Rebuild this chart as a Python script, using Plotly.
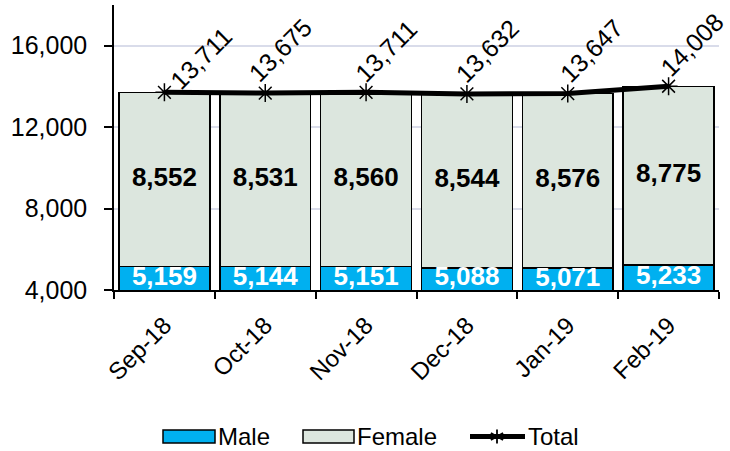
import plotly.graph_objects as go

months = ["Sep-18", "Oct-18", "Nov-18", "Dec-18", "Jan-19", "Feb-19"]
male = [5159, 5144, 5151, 5088, 5071, 5233]
female = [8552, 8531, 8560, 8544, 8576, 8775]
total = [13711, 13675, 13711, 13632, 13647, 14008]
y_min, y_max = 4000, 18000
y_ticks = [4000, 8000, 12000, 16000]

# label offsets (pixels) of the rotated total labels, relative to the markers
label_dx = [37, 15, 20, 20, 23, 23]
label_dy = [34, 43, 41, 43, 43, 41]

FONT = "Liberation Sans, Arial, sans-serif"
MALE_C = "#00B0F0"
FEMALE_C = "#DCE6DE"

# plot area in pixels (for the hand-drawn legend)
L, R, T, B = 114, 11, 5, 161
W, H = 730, 451
PW, PH = W - L - R, H - T - B


def px(xp):
    return (xp - L) / PW


def py(yp):
    return (H - B - yp) / PH


fig = go.Figure()
fig.add_trace(go.Bar(
    x=months, y=male, name="Male", showlegend=False,
    marker=dict(color=MALE_C, line=dict(color="black", width=1.5)),
))
fig.add_trace(go.Bar(
    x=months, y=female, name="Female", showlegend=False,
    marker=dict(color=FEMALE_C, line=dict(color="black", width=1.5)),
))
fig.add_trace(go.Scatter(
    x=months, y=[(y_min + m) / 2 for m in male], mode="text",
    text=[f"{v:,}" for v in male], showlegend=False, hoverinfo="skip",
    textfont=dict(family=FONT, size=26, color="white", weight="bold"),
    cliponaxis=True,
))
fig.add_trace(go.Scatter(
    x=months, y=[m + f / 2 for m, f in zip(male, female)], mode="text",
    text=[f"{v:,}" for v in female], showlegend=False, hoverinfo="skip",
    textfont=dict(family=FONT, size=26, color="black", weight="bold"),
))
fig.add_trace(go.Scatter(
    x=months, y=total, name="Total", mode="lines+markers", showlegend=False,
    line=dict(color="black", width=5),
    marker=dict(symbol="asterisk-open", size=15, color="black",
                line=dict(color="black", width=1.5)),
))

for m, t, dx, dy in zip(months, total, label_dx, label_dy):
    fig.add_annotation(
        x=m, y=t, text=f"{t:,}", showarrow=False, textangle=-45,
        xanchor="center", yanchor="middle", xshift=dx, yshift=dy,
        font=dict(family=FONT, size=25, color="black"),
    )

# custom legend (wide rectangle swatches like the original)
shapes = []
ann = []
leg_y = 436.5
for x0, x1, col, label in [(163, 215, MALE_C, "Male"), (303, 354, FEMALE_C, "Female")]:
    shapes.append(dict(type="rect", xref="paper", yref="paper",
                       x0=px(x0), x1=px(x1), y0=py(430), y1=py(443),
                       fillcolor=col, line=dict(color="black", width=1.5)))
    ann.append(dict(xref="paper", yref="paper", x=px(x1 + 1), y=py(leg_y),
                    text=label, showarrow=False, xanchor="left", yanchor="middle",
                    font=dict(family=FONT, size=24, color="black")))
shapes.append(dict(type="line", xref="paper", yref="paper",
                   x0=px(470), x1=px(525), y0=py(leg_y), y1=py(leg_y),
                   line=dict(color="black", width=5)))
cx, cy, r = 497, leg_y, 7
for ddx, ddy in [(0, r), (r * 0.87, r * 0.5), (r * 0.87, -r * 0.5)]:
    shapes.append(dict(type="line", xref="paper", yref="paper",
                       x0=px(cx - ddx), x1=px(cx + ddx), y0=py(cy - ddy), y1=py(cy + ddy),
                       line=dict(color="black", width=1.8)))
ann.append(dict(xref="paper", yref="paper", x=px(526), y=py(leg_y),
                text="Total", showarrow=False, xanchor="left", yanchor="middle",
                font=dict(family=FONT, size=24, color="black")))

fig.update_layout(
    width=W, height=H,
    margin=dict(l=L, r=R, t=T, b=B, autoexpand=False),
    barmode="stack", bargap=0.1,
    plot_bgcolor="white", paper_bgcolor="white",
    font=dict(family=FONT, size=24, color="black"),
    showlegend=False,
    shapes=shapes,
    xaxis=dict(
        type="category", range=[-0.5, len(months) - 0.5],
        tickangle=-45, tickson="boundaries",
        ticks="outside", ticklen=7, tickcolor="black", tickwidth=1.5,
        showline=True, linecolor="black", linewidth=1.5,
        tickfont=dict(size=24), showgrid=False, ticklabelstandoff=10,
    ),
    yaxis=dict(
        range=[y_min, y_max], tickvals=y_ticks,
        ticktext=[f"{v:,}" for v in y_ticks],
        ticks="outside", ticklen=8, tickcolor="black", tickwidth=1.5,
        showline=True, linecolor="black", linewidth=1.5,
        showgrid=True, gridcolor="#D9DCEA", gridwidth=1.5,
        tickfont=dict(size=25), zeroline=False, ticklabelstandoff=12,
    ),
)
for a in ann:
    fig.add_annotation(**a)

fig.write_html("out.html", config={"displayModeBar": False},
               post_script="document.body.style.margin='0';document.body.style.padding='0';")
